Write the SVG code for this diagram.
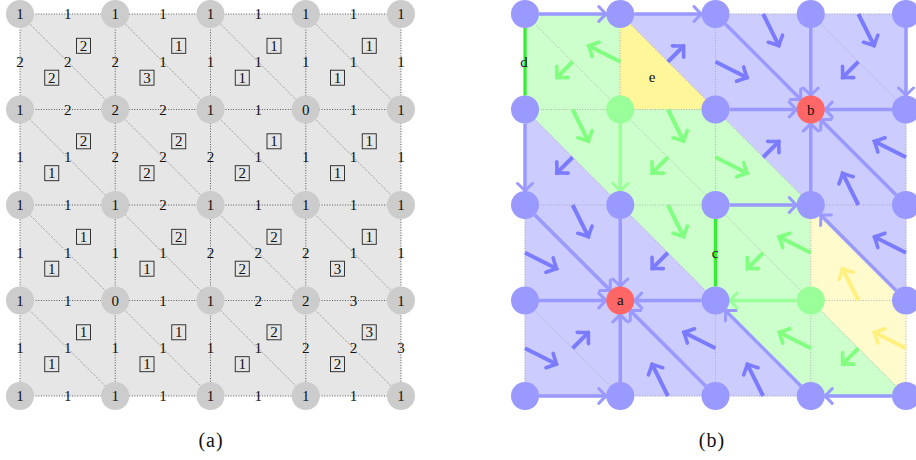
<svg xmlns="http://www.w3.org/2000/svg" width="916" height="460" viewBox="0 0 916 460">
<style>
.g{stroke:#333;stroke-width:0.8;stroke-dasharray:1 1.6;fill:none}
.dg{stroke:#444;stroke-width:0.6;stroke-dasharray:1 1.3;fill:none}
.na{fill:#cccccc}
.t{font-family:"Liberation Serif","DejaVu Serif",serif;font-size:15px;fill:#111;text-anchor:middle}
.bx{fill:none;stroke:#222;stroke-width:0.9}
.tb{fill:#ccccff;stroke:#ccccff;stroke-width:0.6}
.tg{fill:#ccffcc;stroke:#ccffcc;stroke-width:0.6}
.te{fill:#fff599;stroke:#fff599;stroke-width:0.6}
.ty{fill:#fffbcc;stroke:#fffbcc;stroke-width:0.6}
.dt{stroke:#9a9a9a;stroke-width:0.7;stroke-dasharray:1 1.6;fill:none}
.ea{stroke:#9999ff;stroke-width:3.5;fill:none;marker-end:url(#hE)}
.eg{stroke:#99ff99;stroke-width:3.5;fill:none;marker-end:url(#hEg)}
.ab{stroke:#7b7bff;stroke-width:4;fill:none;marker-end:url(#hB)}
.ag{stroke:#80ff80;stroke-width:4;fill:none;marker-end:url(#hG)}
.ay{stroke:#fff080;stroke-width:4;fill:none;marker-end:url(#hY)}
.cr{stroke:#33ee33;stroke-width:3.2;fill:none}
.nb{fill:#9999ff}
.ng{fill:#99ff99}
.nr{fill:#ff6666}
.cap{font-family:"Liberation Serif","DejaVu Serif",serif;font-size:20px;fill:#111;text-anchor:middle;letter-spacing:1px}
</style>
<defs>
<marker id="hE" markerUnits="userSpaceOnUse" viewBox="-10 -10 12 20" refX="0" refY="0" markerWidth="12" markerHeight="20" orient="auto">
<path d="M-7.5,-7.5 Q-2.5,-2 0,0 Q-2.5,2 -7.5,7.5" fill="none" stroke="#9999ff" stroke-width="3" stroke-linecap="round"/>
</marker>
<marker id="hEg" markerUnits="userSpaceOnUse" viewBox="-10 -10 12 20" refX="0" refY="0" markerWidth="12" markerHeight="20" orient="auto">
<path d="M-7.5,-7.5 Q-2.5,-2 0,0 Q-2.5,2 -7.5,7.5" fill="none" stroke="#99ff99" stroke-width="3" stroke-linecap="round"/>
</marker>
<marker id="hB" markerUnits="userSpaceOnUse" viewBox="-10 -10 12 20" refX="0" refY="0" markerWidth="12" markerHeight="20" orient="auto">
<path d="M-8,-8 Q-2.5,-2 0,0 Q-2.5,2 -8,8" fill="none" stroke="#7b7bff" stroke-width="3.6" stroke-linecap="round"/>
</marker>
<marker id="hG" markerUnits="userSpaceOnUse" viewBox="-10 -10 12 20" refX="0" refY="0" markerWidth="12" markerHeight="20" orient="auto">
<path d="M-8,-8 Q-2.5,-2 0,0 Q-2.5,2 -8,8" fill="none" stroke="#80ff80" stroke-width="3.6" stroke-linecap="round"/>
</marker>
<marker id="hY" markerUnits="userSpaceOnUse" viewBox="-10 -10 12 20" refX="0" refY="0" markerWidth="12" markerHeight="20" orient="auto">
<path d="M-8,-8 Q-2.5,-2 0,0 Q-2.5,2 -8,8" fill="none" stroke="#fff080" stroke-width="3.6" stroke-linecap="round"/>
</marker>
</defs>
<rect width="916" height="460" fill="#ffffff"/>

<!-- ================= Panel (a) ================= -->
<g id="panel-a">
<rect x="20" y="14" width="381" height="382" fill="#e6e6e6"/>
<g id="a-connectors">
<path class="g" d="M20,14H401M20,109.5H401M20,205H401M20,300.5H401M20,396H401M20,14V396M115.25,14V396M210.5,14V396M305.75,14V396M401,14V396"/>
<path class="dg" d="M20,14L401,396M115.25,14L401,300.5M210.5,14L401,205M305.75,14L401,109.5M20,109.5L305.75,396M20,205L210.5,396M20,300.5L115.25,396"/>
</g>
<g id="a-edge-labels">
<text class="t" x="67.63" y="19">1</text><text class="t" x="162.88" y="19">1</text><text class="t" x="258.13" y="19">1</text><text class="t" x="353.38" y="19">1</text>
<text class="t" x="67.63" y="114.5">2</text><text class="t" x="162.88" y="114.5">2</text><text class="t" x="258.13" y="114.5">1</text><text class="t" x="353.38" y="114.5">1</text>
<text class="t" x="67.63" y="210">1</text><text class="t" x="162.88" y="210">2</text><text class="t" x="258.13" y="210">1</text><text class="t" x="353.38" y="210">1</text>
<text class="t" x="67.63" y="305.5">1</text><text class="t" x="162.88" y="305.5">1</text><text class="t" x="258.13" y="305.5">2</text><text class="t" x="353.38" y="305.5">3</text>
<text class="t" x="67.63" y="401">1</text><text class="t" x="162.88" y="401">1</text><text class="t" x="258.13" y="401">1</text><text class="t" x="353.38" y="401">1</text>

<text class="t" x="20" y="66.75">2</text><text class="t" x="115.25" y="66.75">2</text><text class="t" x="210.5" y="66.75">1</text><text class="t" x="305.75" y="66.75">1</text><text class="t" x="401" y="66.75">1</text>
<text class="t" x="20" y="162.25">1</text><text class="t" x="115.25" y="162.25">2</text><text class="t" x="210.5" y="162.25">2</text><text class="t" x="305.75" y="162.25">1</text><text class="t" x="401" y="162.25">1</text>
<text class="t" x="20" y="257.75">1</text><text class="t" x="115.25" y="257.75">1</text><text class="t" x="210.5" y="257.75">2</text><text class="t" x="305.75" y="257.75">2</text><text class="t" x="401" y="257.75">1</text>
<text class="t" x="20" y="353.25">1</text><text class="t" x="115.25" y="353.25">1</text><text class="t" x="210.5" y="353.25">1</text><text class="t" x="305.75" y="353.25">2</text><text class="t" x="401" y="353.25">3</text>

<text class="t" x="67.63" y="66.75">2</text><text class="t" x="162.88" y="66.75">1</text><text class="t" x="258.13" y="66.75">1</text><text class="t" x="353.38" y="66.75">1</text>
<text class="t" x="67.63" y="162.25">1</text><text class="t" x="162.88" y="162.25">2</text><text class="t" x="258.13" y="162.25">1</text><text class="t" x="353.38" y="162.25">1</text>
<text class="t" x="67.63" y="257.75">1</text><text class="t" x="162.88" y="257.75">1</text><text class="t" x="258.13" y="257.75">2</text><text class="t" x="353.38" y="257.75">1</text>
<text class="t" x="67.63" y="353.25">1</text><text class="t" x="162.88" y="353.25">1</text><text class="t" x="258.13" y="353.25">1</text><text class="t" x="353.38" y="353.25">2</text>
</g>
<g id="a-triangle-labels">
<rect class="bx" x="76.5" y="38.3" width="14" height="15"/><text class="t" x="83.5" y="50.8">2</text>
<rect class="bx" x="171.75" y="38.3" width="14" height="15"/><text class="t" x="178.75" y="50.8">1</text>
<rect class="bx" x="267" y="38.3" width="14" height="15"/><text class="t" x="274" y="50.8">1</text>
<rect class="bx" x="362.25" y="38.3" width="14" height="15"/><text class="t" x="369.25" y="50.8">1</text>
<rect class="bx" x="76.5" y="133.8" width="14" height="15"/><text class="t" x="83.5" y="146.3">2</text>
<rect class="bx" x="171.75" y="133.8" width="14" height="15"/><text class="t" x="178.75" y="146.3">2</text>
<rect class="bx" x="267" y="133.8" width="14" height="15"/><text class="t" x="274" y="146.3">1</text>
<rect class="bx" x="362.25" y="133.8" width="14" height="15"/><text class="t" x="369.25" y="146.3">1</text>
<rect class="bx" x="76.5" y="229.3" width="14" height="15"/><text class="t" x="83.5" y="241.8">1</text>
<rect class="bx" x="171.75" y="229.3" width="14" height="15"/><text class="t" x="178.75" y="241.8">2</text>
<rect class="bx" x="267" y="229.3" width="14" height="15"/><text class="t" x="274" y="241.8">2</text>
<rect class="bx" x="362.25" y="229.3" width="14" height="15"/><text class="t" x="369.25" y="241.8">1</text>
<rect class="bx" x="76.5" y="324.8" width="14" height="15"/><text class="t" x="83.5" y="337.3">1</text>
<rect class="bx" x="171.75" y="324.8" width="14" height="15"/><text class="t" x="178.75" y="337.3">1</text>
<rect class="bx" x="267" y="324.8" width="14" height="15"/><text class="t" x="274" y="337.3">2</text>
<rect class="bx" x="362.25" y="324.8" width="14" height="15"/><text class="t" x="369.25" y="337.3">3</text>

<rect class="bx" x="44.75" y="70.2" width="14" height="15"/><text class="t" x="51.75" y="82.7">2</text>
<rect class="bx" x="140" y="70.2" width="14" height="15"/><text class="t" x="147" y="82.7">3</text>
<rect class="bx" x="235.25" y="70.2" width="14" height="15"/><text class="t" x="242.25" y="82.7">1</text>
<rect class="bx" x="330.5" y="70.2" width="14" height="15"/><text class="t" x="337.5" y="82.7">1</text>
<rect class="bx" x="44.75" y="165.7" width="14" height="15"/><text class="t" x="51.75" y="178.2">1</text>
<rect class="bx" x="140" y="165.7" width="14" height="15"/><text class="t" x="147" y="178.2">2</text>
<rect class="bx" x="235.25" y="165.7" width="14" height="15"/><text class="t" x="242.25" y="178.2">2</text>
<rect class="bx" x="330.5" y="165.7" width="14" height="15"/><text class="t" x="337.5" y="178.2">1</text>
<rect class="bx" x="44.75" y="261.2" width="14" height="15"/><text class="t" x="51.75" y="273.7">1</text>
<rect class="bx" x="140" y="261.2" width="14" height="15"/><text class="t" x="147" y="273.7">1</text>
<rect class="bx" x="235.25" y="261.2" width="14" height="15"/><text class="t" x="242.25" y="273.7">2</text>
<rect class="bx" x="330.5" y="261.2" width="14" height="15"/><text class="t" x="337.5" y="273.7">3</text>
<rect class="bx" x="44.75" y="356.7" width="14" height="15"/><text class="t" x="51.75" y="369.2">1</text>
<rect class="bx" x="140" y="356.7" width="14" height="15"/><text class="t" x="147" y="369.2">1</text>
<rect class="bx" x="235.25" y="356.7" width="14" height="15"/><text class="t" x="242.25" y="369.2">1</text>
<rect class="bx" x="330.5" y="356.7" width="14" height="15"/><text class="t" x="337.5" y="369.2">2</text>
</g>
<g id="a-n00"><circle class="na" cx="20" cy="14" r="14"/><text class="t" x="20" y="19">1</text></g>
<g id="a-n01"><circle class="na" cx="115.25" cy="14" r="14"/><text class="t" x="115.25" y="19">1</text></g>
<g id="a-n02"><circle class="na" cx="210.5" cy="14" r="14"/><text class="t" x="210.5" y="19">1</text></g>
<g id="a-n03"><circle class="na" cx="305.75" cy="14" r="14"/><text class="t" x="305.75" y="19">1</text></g>
<g id="a-n04"><circle class="na" cx="401" cy="14" r="14"/><text class="t" x="401" y="19">1</text></g>
<g id="a-n10"><circle class="na" cx="20" cy="109.5" r="14"/><text class="t" x="20" y="114.5">1</text></g>
<g id="a-n11"><circle class="na" cx="115.25" cy="109.5" r="14"/><text class="t" x="115.25" y="114.5">2</text></g>
<g id="a-n12"><circle class="na" cx="210.5" cy="109.5" r="14"/><text class="t" x="210.5" y="114.5">1</text></g>
<g id="a-n13"><circle class="na" cx="305.75" cy="109.5" r="14"/><text class="t" x="305.75" y="114.5">0</text></g>
<g id="a-n14"><circle class="na" cx="401" cy="109.5" r="14"/><text class="t" x="401" y="114.5">1</text></g>
<g id="a-n20"><circle class="na" cx="20" cy="205" r="14"/><text class="t" x="20" y="210">1</text></g>
<g id="a-n21"><circle class="na" cx="115.25" cy="205" r="14"/><text class="t" x="115.25" y="210">1</text></g>
<g id="a-n22"><circle class="na" cx="210.5" cy="205" r="14"/><text class="t" x="210.5" y="210">1</text></g>
<g id="a-n23"><circle class="na" cx="305.75" cy="205" r="14"/><text class="t" x="305.75" y="210">1</text></g>
<g id="a-n24"><circle class="na" cx="401" cy="205" r="14"/><text class="t" x="401" y="210">1</text></g>
<g id="a-n30"><circle class="na" cx="20" cy="300.5" r="14"/><text class="t" x="20" y="305.5">1</text></g>
<g id="a-n31"><circle class="na" cx="115.25" cy="300.5" r="14"/><text class="t" x="115.25" y="305.5">0</text></g>
<g id="a-n32"><circle class="na" cx="210.5" cy="300.5" r="14"/><text class="t" x="210.5" y="305.5">1</text></g>
<g id="a-n33"><circle class="na" cx="305.75" cy="300.5" r="14"/><text class="t" x="305.75" y="305.5">2</text></g>
<g id="a-n34"><circle class="na" cx="401" cy="300.5" r="14"/><text class="t" x="401" y="305.5">1</text></g>
<g id="a-n40"><circle class="na" cx="20" cy="396" r="14"/><text class="t" x="20" y="401">1</text></g>
<g id="a-n41"><circle class="na" cx="115.25" cy="396" r="14"/><text class="t" x="115.25" y="401">1</text></g>
<g id="a-n42"><circle class="na" cx="210.5" cy="396" r="14"/><text class="t" x="210.5" y="401">1</text></g>
<g id="a-n43"><circle class="na" cx="305.75" cy="396" r="14"/><text class="t" x="305.75" y="401">1</text></g>
<g id="a-n44"><circle class="na" cx="401" cy="396" r="14"/><text class="t" x="401" y="401">1</text></g>
<text class="cap" x="211" y="447">(a)</text>
</g>

<!-- ================= Panel (b) ================= -->
<g id="panel-b">
<g id="b-triangles">
<!-- row 0 -->
<rect class="tg" x="525" y="14" width="95.25" height="95.5"/>
<polygon class="tb" points="620.25,14 715.5,14 715.5,109.5"/>
<polygon class="te" points="620.25,14 620.25,109.5 715.5,109.5"/>
<rect class="tb" x="715.5" y="14" width="190.5" height="95.5"/>
<!-- row 1 -->
<polygon class="tg" points="525,109.5 620.25,109.5 620.25,205"/>
<polygon class="tb" points="525,109.5 525,205 620.25,205"/>
<rect class="tg" x="620.25" y="109.5" width="95.25" height="95.5"/>
<polygon class="tb" points="715.5,109.5 810.75,109.5 810.75,205"/>
<polygon class="tg" points="715.5,109.5 715.5,205 810.75,205"/>
<rect class="tb" x="810.75" y="109.5" width="95.25" height="95.5"/>
<!-- row 2 -->
<rect class="tb" x="525" y="205" width="95.25" height="95.5"/>
<polygon class="tg" points="620.25,205 715.5,205 715.5,300.5"/>
<polygon class="tb" points="620.25,205 620.25,300.5 715.5,300.5"/>
<rect class="tg" x="715.5" y="205" width="95.25" height="95.5"/>
<polygon class="tb" points="810.75,205 906,205 906,300.5"/>
<polygon class="ty" points="810.75,205 810.75,300.5 906,300.5"/>
<!-- row 3 -->
<rect class="tb" x="525" y="300.5" width="190.5" height="95.5"/>
<polygon class="tg" points="715.5,300.5 810.75,300.5 810.75,396"/>
<polygon class="tb" points="715.5,300.5 715.5,396 810.75,396"/>
<polygon class="ty" points="810.75,300.5 906,300.5 906,396"/>
<polygon class="tg" points="810.75,300.5 810.75,396 906,396"/>
</g>
<g id="b-connectors">
<path class="dt" d="M525,14H906M525,109.5H906M525,205H906M525,300.5H906M525,396H906M525,14V396M620.25,14V396M715.5,14V396M810.75,14V396M906,14V396"/>
<path class="dt" d="M525,14L906,396M620.25,14L906,300.5M715.5,14L906,205M810.75,14L906,109.5M525,109.5L810.75,396M525,205L715.5,396M525,300.5L620.25,396"/>
<path class="cr" d="M525,28V95.5"/>
<path class="cr" d="M715.5,219V286.5"/>
<!-- edge arrows -->
<path class="ea" d="M539,14H606.25"/>
<path class="ea" d="M634.25,14H701.5"/>
<path class="ea" d="M525,123.5V191"/>
<path class="ea" d="M906,28V95.5"/>
<path class="ea" d="M810.75,28V95.5"/>
<path class="ea" d="M725.4,23.9L800.85,99.6"/>
<path class="ea" d="M729.5,109.5H796.75"/>
<path class="ea" d="M892,109.5H824.75"/>
<path class="ea" d="M810.75,191V123.5"/>
<path class="ea" d="M896.1,195.1L820.65,119.4"/>
<path class="ea" d="M729.5,205H796.75"/>
<path class="ea" d="M896.1,290.6L820.65,214.9"/>
<path class="ea" d="M534.9,214.9L610.35,290.6"/>
<path class="ea" d="M620.25,219V286.5"/>
<path class="ea" d="M539,300.5H606.25"/>
<path class="ea" d="M701.5,300.5H634.25"/>
<path class="ea" d="M620.25,382V314.5"/>
<path class="ea" d="M705.6,386.1L630.15,310.4"/>
<path class="ea" d="M800.85,386.1L725.4,310.4"/>
<path class="ea" d="M892,396H824.75"/>
<path class="ea" d="M539,396H606.25"/>
<path class="eg" d="M620.25,123.5V191"/>
<path class="eg" d="M796.75,300.5H729.5"/>
<!-- triangle arrows -->
<path class="ag" d="M620.25,61.75L588.5,45.83"/>
<path class="ag" d="M572.63,61.75L556.75,77.67"/>
<path class="ab" d="M667.88,61.75L683.75,45.83"/>
<path class="ab" d="M763.13,14L779,45.83"/>
<path class="ab" d="M715.5,61.75L747.25,77.67"/>
<path class="ab" d="M858.38,14L874.25,45.83"/>
<path class="ab" d="M858.38,61.75L842.5,77.67"/>

<path class="ag" d="M572.63,109.5L588.5,141.33"/>
<path class="ab" d="M572.63,157.25L556.75,173.17"/>
<path class="ag" d="M667.88,109.5L683.75,141.33"/>
<path class="ag" d="M667.88,157.25L652,173.17"/>
<path class="ab" d="M763.13,157.25L779,141.33"/>
<path class="ag" d="M715.5,157.25L747.25,173.17"/>
<path class="ab" d="M906,157.25L874.25,141.33"/>
<path class="ab" d="M858.38,205L842.5,173.17"/>

<path class="ab" d="M572.63,205L588.5,236.83"/>
<path class="ab" d="M525,252.75L556.75,268.67"/>
<path class="ag" d="M667.88,205L683.75,236.83"/>
<path class="ab" d="M667.88,252.75L652,268.67"/>
<path class="ag" d="M810.75,252.75L779,236.83"/>
<path class="ag" d="M763.13,252.75L747.25,268.67"/>
<path class="ab" d="M906,252.75L874.25,236.83"/>
<path class="ay" d="M858.38,300.5L842.5,268.67"/>

<path class="ab" d="M572.63,348.25L588.5,332.33"/>
<path class="ab" d="M525,348.25L556.75,364.17"/>
<path class="ab" d="M715.5,348.25L683.75,332.33"/>
<path class="ab" d="M667.88,396L652,364.17"/>
<path class="ag" d="M810.75,348.25L779,332.33"/>
<path class="ab" d="M763.13,396L747.25,364.17"/>
<path class="ay" d="M906,348.25L874.25,332.33"/>
<path class="ag" d="M858.38,348.25L842.5,364.17"/>
</g>
<g id="b-labels">
<text class="t" x="524" y="67">d</text>
<text class="t" x="715" y="258">c</text>
<text class="t" x="652" y="82">e</text>
</g>
<g id="b-n00"><circle class="nb" cx="525" cy="14" r="14"/></g>
<g id="b-n01"><circle class="nb" cx="620.25" cy="14" r="14"/></g>
<g id="b-n02"><circle class="nb" cx="715.5" cy="14" r="14"/></g>
<g id="b-n03"><circle class="nb" cx="810.75" cy="14" r="14"/></g>
<g id="b-n04"><circle class="nb" cx="906" cy="14" r="14"/></g>
<g id="b-n10"><circle class="nb" cx="525" cy="109.5" r="14"/></g>
<g id="b-n11"><circle class="ng" cx="620.25" cy="109.5" r="14"/></g>
<g id="b-n12"><circle class="nb" cx="715.5" cy="109.5" r="14"/></g>
<g id="b-n13"><circle class="nr" cx="810.75" cy="109.5" r="14"/><text class="t" x="810.75" y="114.5">b</text></g>
<g id="b-n14"><circle class="nb" cx="906" cy="109.5" r="14"/></g>
<g id="b-n20"><circle class="nb" cx="525" cy="205" r="14"/></g>
<g id="b-n21"><circle class="nb" cx="620.25" cy="205" r="14"/></g>
<g id="b-n22"><circle class="nb" cx="715.5" cy="205" r="14"/></g>
<g id="b-n23"><circle class="nb" cx="810.75" cy="205" r="14"/></g>
<g id="b-n24"><circle class="nb" cx="906" cy="205" r="14"/></g>
<g id="b-n30"><circle class="nb" cx="525" cy="300.5" r="14"/></g>
<g id="b-n31"><circle class="nr" cx="620.25" cy="300.5" r="14"/><text class="t" x="620.25" y="305">a</text></g>
<g id="b-n32"><circle class="nb" cx="715.5" cy="300.5" r="14"/></g>
<g id="b-n33"><circle class="ng" cx="810.75" cy="300.5" r="14"/></g>
<g id="b-n34"><circle class="nb" cx="906" cy="300.5" r="14"/></g>
<g id="b-n40"><circle class="nb" cx="525" cy="396" r="14"/></g>
<g id="b-n41"><circle class="nb" cx="620.25" cy="396" r="14"/></g>
<g id="b-n42"><circle class="nb" cx="715.5" cy="396" r="14"/></g>
<g id="b-n43"><circle class="nb" cx="810.75" cy="396" r="14"/></g>
<g id="b-n44"><circle class="nb" cx="906" cy="396" r="14"/></g>
<text class="cap" x="712" y="447">(b)</text>
</g>
</svg>
